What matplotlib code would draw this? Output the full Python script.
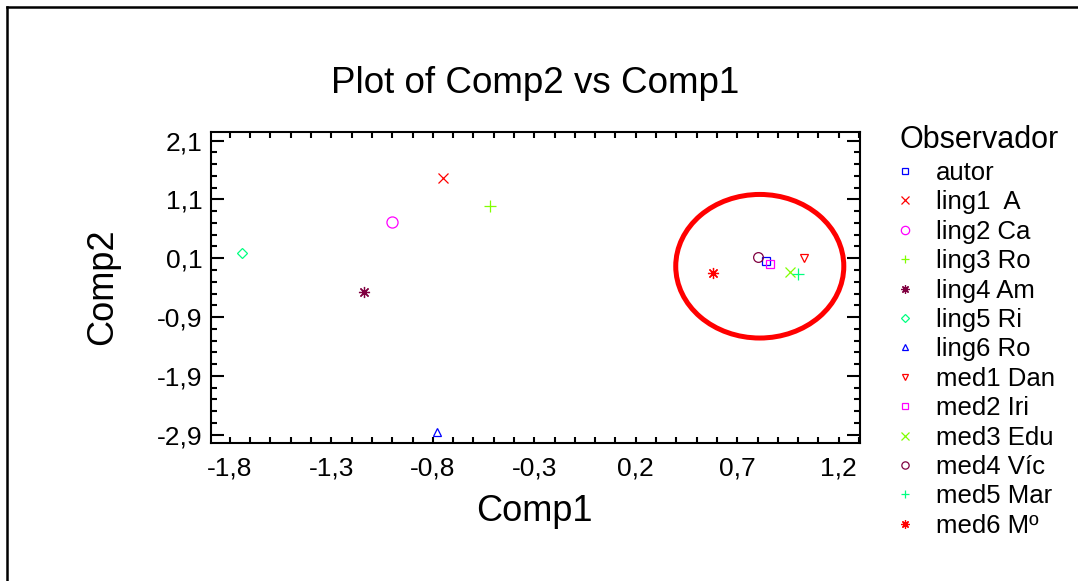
import matplotlib
matplotlib.use("Agg")
import matplotlib.pyplot as plt
from matplotlib.patches import Ellipse
from matplotlib.lines import Line2D
import numpy as np

plt.rcParams['font.family'] = ['Liberation Sans', 'DejaVu Sans']

# observers and their component scores
labels = ['autor', 'ling1  A', 'ling2 Ca', 'ling3 Ro', 'ling4 Am', 'ling5 Ri',
          'ling6 Ro', 'med1 Dan', 'med2 Iri', 'med3 Edu', 'med4 Víc',
          'med5 Mar', 'med6 Mº']
comp1 = [0.84, -0.75, -1.00, -0.52, -1.14, -1.74, -0.78,
         1.03, 0.86, 0.96, 0.80, 1.00, 0.58]
comp2 = [0.05, 1.46, 0.72, 0.98, -0.48, 0.19, -2.86,
         0.10, 0.01, -0.14, 0.12, -0.16, -0.15]
markers = ['s', 'x', 'o', '+', (8, 2, 0), 'D', '^', 'v', 's', 'x', 'o', '+', (8, 2, 0)]
colors = ['#0000ff', '#ff0000', '#ff00ff', '#80ff00', '#800040', '#00ff80', '#0000ff',
          '#ff0000', '#ff00ff', '#80ff00', '#800040', '#00ff80', '#ff0000']
sizes = [6, 7, 8, 8, 8, 5, 6, 6, 6, 7, 7, 8, 8]

xticks = [-1.8, -1.3, -0.8, -0.3, 0.2, 0.7, 1.2]
yticks = [2.1, 1.1, 0.1, -0.9, -1.9, -2.9]

fig = plt.figure(figsize=(10.78, 5.81), dpi=100)
ax = fig.add_axes([0.1957, 0.2375, 0.6021, 0.5353])

for lab, x, y, m, c, s in zip(labels, comp1, comp2, markers, colors, sizes):
    filled = m in ('x', '+') or isinstance(m, tuple)
    ax.plot([x], [y], linestyle='none', marker=m, markersize=s,
            markerfacecolor=c if filled else 'none', markeredgecolor=c,
            markeredgewidth=0.9, label=lab)

# hand-drawn highlight around the medical observers
ax.add_patch(Ellipse((0.811, -0.036), 0.828, 2.44, fill=False,
                     edgecolor='#ff0000', linewidth=3.6))

ax.set_xlim(-1.893, 1.305)
ax.set_ylim(-3.04, 2.245)
ax.set_xticks(xticks)
ax.set_xticklabels([f'{v:.1f}'.replace('.', ',') for v in xticks])
ax.set_yticks(yticks)
ax.set_yticklabels([f'{v:.1f}'.replace('.', ',') for v in yticks])
ax.set_xticks(np.arange(-1.8, 1.31, 0.1), minor=True)
ax.set_yticks(np.arange(-2.9, 2.25, 0.2), minor=True)
ax.tick_params(axis='both', which='both', direction='in', top=True, right=True,
               width=1.5, labelsize=19)
ax.tick_params(axis='y', which='major', length=9.5, pad=6)
ax.tick_params(axis='y', which='minor', length=4.3)
ax.tick_params(axis='x', which='both', length=4.3, pad=10)
for sp in ax.spines.values():
    sp.set_linewidth(1.5)

fig.text(0.496, 0.857, 'Plot of Comp2 vs Comp1', fontsize=26.5, ha='center', va='center')
fig.text(0.496, 0.119, 'Comp1', fontsize=26, ha='center', va='center')
fig.text(0.0955, 0.506, 'Comp2', fontsize=26, ha='center', va='center', rotation=90)

leg = ax.legend(loc='upper left', bbox_to_anchor=(0.834, 0.784),
                bbox_transform=fig.transFigure, frameon=False, fontsize=18.5,
                title='Observador', title_fontsize=22, markerscale=0.75,
                handlelength=0.5, handletextpad=0.95, labelspacing=0.21,
                borderpad=0, borderaxespad=0)
leg._legend_box.align = 'left'
leg._legend_box.sep = 4

# outer frame lines
fig.add_artist(Line2D([0.0065, 0.0065], [0, 0.988], transform=fig.transFigure,
                      color='black', linewidth=1.8))
fig.add_artist(Line2D([0.0065, 1.0], [0.988, 0.988], transform=fig.transFigure,
                      color='black', linewidth=1.8))

fig.savefig('out.png', dpi=100)
